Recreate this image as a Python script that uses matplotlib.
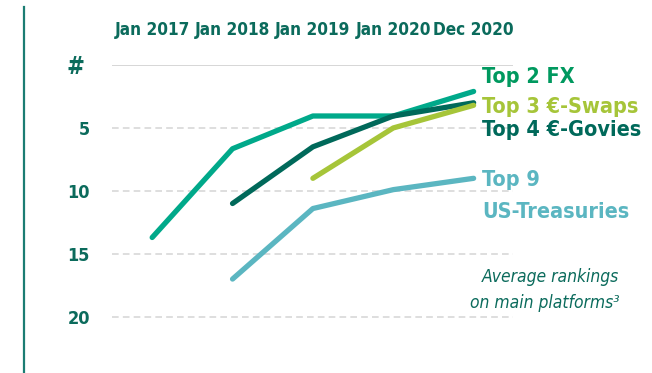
import matplotlib
matplotlib.use('Agg')
import matplotlib.pyplot as plt
import numpy as np

# Dados (ranking médio, menor = melhor)
periodos = ['Jan 2017', 'Jan 2018', 'Jan 2019', 'Jan 2020', 'Dec 2020']
fx = [13.7, 6.65, 4.05, 4.05, 2.1]
swaps = [None, None, 9.0, 5.0, 3.2]
govies = [None, 11.0, 6.5, 4.05, 3.0]
treasuries = [None, 17.0, 11.4, 9.9, 9.0]
ticks_y = [5, 10, 15, 20]

verde_escuro = '#0b6b5c'
cores = {'fx': '#00a98a', 'swaps': '#a6c539', 'govies': '#00695a', 'treasuries': '#5bb6c1'}

# DejaVu Sans Condensed no lugar da Arial Narrow
plt.rcParams['font.family'] = ['DejaVu Sans']
plt.rcParams['font.stretch'] = 'condensed'

fig = plt.figure(figsize=(6.52, 3.73), dpi=100)
ax = fig.add_axes([112 / 652, 1 - 342 / 373, 401 / 652, 277 / 373])

x = np.arange(len(periodos))

def serie(vals):
    pts = [(xi, v) for xi, v in zip(x, vals) if v is not None]
    return [p[0] for p in pts], [p[1] for p in pts]

for nome, vals in [('fx', fx), ('treasuries', treasuries), ('govies', govies), ('swaps', swaps)]:
    xs, ys = serie(vals)
    ax.plot(xs, ys, color=cores[nome], lw=3.8, solid_capstyle='round',
            solid_joinstyle='round', zorder=3)

# Linhas de grade
ax.axhline(0, color='#d3d3d3', lw=1.3, zorder=1)
for t in ticks_y:
    ax.axhline(t, color='#d8d8d8', lw=1.2, ls=(0, (4, 2.5)), zorder=1)

ax.set_xlim(-0.5, 4.49)
ax.set_ylim(22, 0)
for s in ax.spines.values():
    s.set_visible(False)

ax.xaxis.tick_top()
ax.set_xticks(x)
ax.set_xticklabels(periodos, fontsize=12.3, fontweight='bold', color=verde_escuro)
ax.set_yticks(ticks_y)
ax.set_yticklabels([str(t) for t in ticks_y], fontsize=13, fontweight='bold', color=verde_escuro)
ax.tick_params(axis='x', length=0, pad=19)
ax.tick_params(axis='y', length=0, pad=16)

ax.text(-0.96, 0.15, '#', fontsize=17, fontweight='bold', color=verde_escuro,
        ha='center', va='center', clip_on=False)

# Rótulos das séries
xr = 4.11
fs = 15.5
ax.text(xr, 0.95, 'Top 2 FX', color='#00995f', fontsize=fs, fontweight='bold', va='center', clip_on=False)
ax.text(xr, 3.3, 'Top 3 €-Swaps', color='#a6c539', fontsize=fs, fontweight='bold', va='center', clip_on=False)
ax.text(xr, 5.15, 'Top 4 €-Govies', color='#00695a', fontsize=fs, fontweight='bold', va='center', clip_on=False)
ax.text(xr, 9.1, 'Top 9', color='#5bb6c1', fontsize=fs, fontweight='bold', va='center', clip_on=False)
ax.text(xr, 11.65, 'US-Treasuries', color='#5bb6c1', fontsize=fs, fontweight='bold', va='center', clip_on=False)

ax.text(5.81, 16.8, 'Average rankings', color=verde_escuro, fontsize=12.5, style='italic',
        ha='right', va='center', clip_on=False)
ax.text(5.81, 18.9, 'on main platforms³', color=verde_escuro, fontsize=12.5, style='italic',
        ha='right', va='center', clip_on=False)

# Linha vertical à esquerda
fig.add_artist(plt.Line2D([24 / 652, 24 / 652], [0, 1 - 7 / 373], color='#1b7d73', lw=1.6))

fig.savefig('out.png', dpi=100)
